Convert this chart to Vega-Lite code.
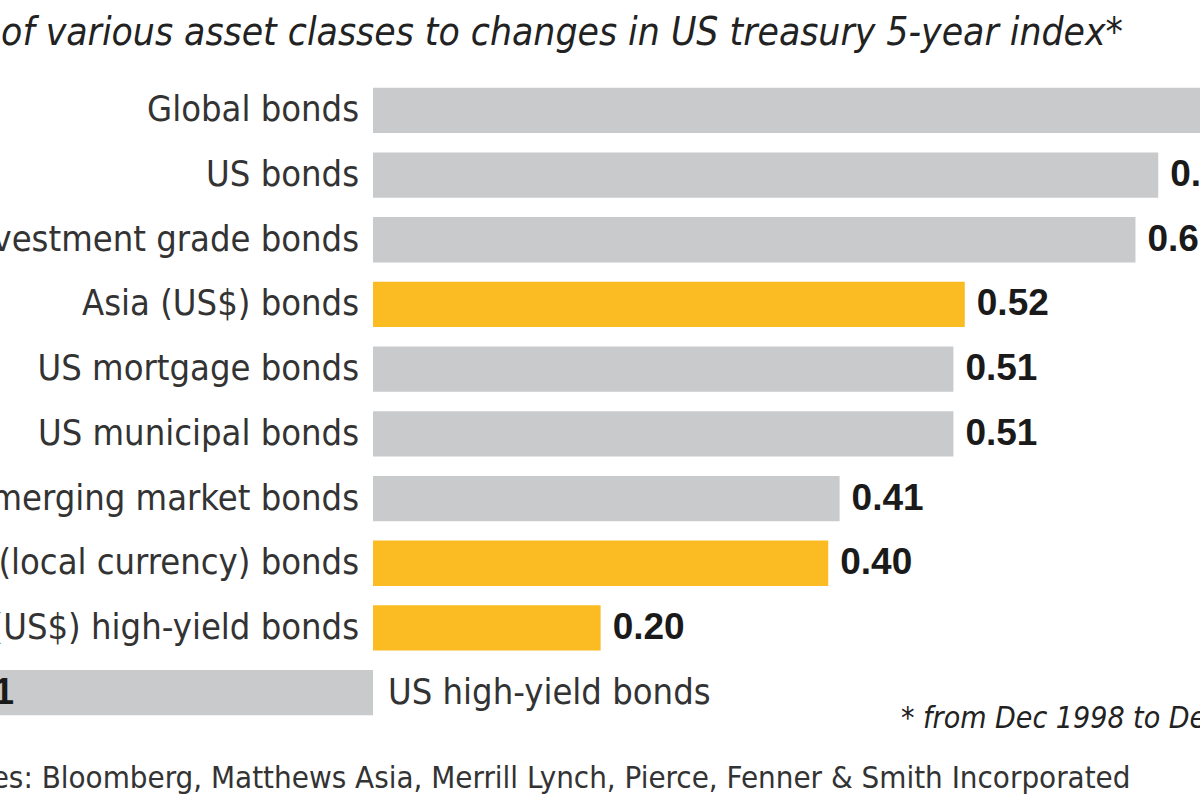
{
  "$schema": "https://vega.github.io/schema/vega-lite/v6.json",
  "width": 1200,
  "height": 647,
  "autosize": {"type": "none"},
  "padding": {"left": 0, "top": 78, "right": 0, "bottom": 75},
  "background": "white",
  "config": {"view": {"stroke": null}},
  "title": {
    "text": "Sensitivity of various asset classes to changes in US treasury 5-year index*",
    "anchor": "end",
    "frame": "group",
    "dx": -77,
    "offset": 25,
    "font": "DejaVu Sans Condensed",
    "fontStyle": "italic",
    "fontWeight": "normal",
    "fontSize": 38.7,
    "color": "#222222"
  },
  "data": {
    "values": [
      {"asset": "Global bonds", "value": 0.75, "group": "Other"},
      {"asset": "US bonds", "value": 0.69, "group": "Other"},
      {"asset": "Investment grade bonds", "value": 0.67, "group": "Other"},
      {"asset": "Asia (US$) bonds", "value": 0.52, "group": "Asia"},
      {"asset": "US mortgage bonds", "value": 0.51, "group": "Other"},
      {"asset": "US municipal bonds", "value": 0.51, "group": "Other"},
      {"asset": "Emerging market bonds", "value": 0.41, "group": "Other"},
      {"asset": "Asia (local currency) bonds", "value": 0.40, "group": "Asia"},
      {"asset": "Asia (US$) high-yield bonds", "value": 0.20, "group": "Asia"},
      {"asset": "US high-yield bonds", "value": -0.41, "group": "Other"}
    ]
  },
  "encoding": {
    "y": {
      "field": "asset",
      "type": "nominal",
      "sort": null,
      "scale": {"paddingInner": 0.3, "paddingOuter": 0.15},
      "axis": null
    }
  },
  "layer": [
    {
      "mark": {"type": "bar", "clip": false},
      "encoding": {
        "x": {
          "field": "value",
          "type": "quantitative",
          "scale": {"domain": [-0.3278, 0.7267], "nice": false},
          "axis": {
            "title": "Sources: Bloomberg, Matthews Asia, Merrill Lynch, Pierce, Fenner & Smith Incorporated",
            "labels": false,
            "ticks": false,
            "domain": false,
            "grid": false,
            "titleFont": "DejaVu Sans Condensed",
            "titleFontSize": 31,
            "titleFontWeight": "normal",
            "titleColor": "#333333",
            "titleAlign": "right",
            "titleAnchor": "end",
            "titleX": 1130,
            "titleY": 62,
            "titleBaseline": "alphabetic"
          }
        },
        "color": {
          "field": "group",
          "type": "nominal",
          "scale": {"domain": ["Asia", "Other"], "range": ["#fbbb22", "#c9cacc"]},
          "legend": null
        }
      }
    },
    {
      "mark": {"type": "rule", "color": "#1a1a1a", "strokeWidth": 3},
      "encoding": {"x": {"datum": 0}}
    },
    {
      "transform": [{"filter": "datum.value >= 0"}],
      "mark": {"type": "text", "align": "right", "baseline": "middle", "dx": -14, "font": "DejaVu Sans Condensed", "fontSize": 36, "color": "#333333"},
      "encoding": {"x": {"datum": 0}, "text": {"field": "asset"}}
    },
    {
      "transform": [{"filter": "datum.value < 0"}],
      "mark": {"type": "text", "align": "left", "baseline": "middle", "dx": 15, "font": "DejaVu Sans Condensed", "fontSize": 36, "color": "#333333"},
      "encoding": {"x": {"datum": 0}, "text": {"field": "asset"}}
    },
    {
      "transform": [{"filter": "datum.value >= 0"}],
      "mark": {"type": "text", "align": "left", "baseline": "middle", "dx": 12, "font": "Liberation Sans", "fontWeight": "bold", "fontSize": 37, "color": "#1a1a1a", "clip": false},
      "encoding": {"x": {"field": "value", "type": "quantitative"}, "text": {"field": "value", "format": ".2f"}}
    },
    {
      "transform": [{"filter": "datum.value < 0"}],
      "mark": {"type": "text", "align": "left", "baseline": "middle", "dx": 14, "font": "Liberation Sans", "fontWeight": "bold", "fontSize": 37, "color": "#1a1a1a", "clip": false},
      "encoding": {"x": {"field": "value", "type": "quantitative"}, "text": {"field": "value", "format": ".2f"}}
    },
    {
      "data": {"values": [{"note": "* from Dec 1998 to Dec 2013"}]},
      "mark": {"type": "text", "align": "left", "baseline": "alphabetic", "dy": 35, "font": "DejaVu Sans Condensed", "fontStyle": "italic", "fontSize": 30, "color": "#222222"},
      "encoding": {"x": {"datum": 0.464}, "y": {"datum": "US high-yield bonds"}, "text": {"field": "note"}}
    }
  ]
}
